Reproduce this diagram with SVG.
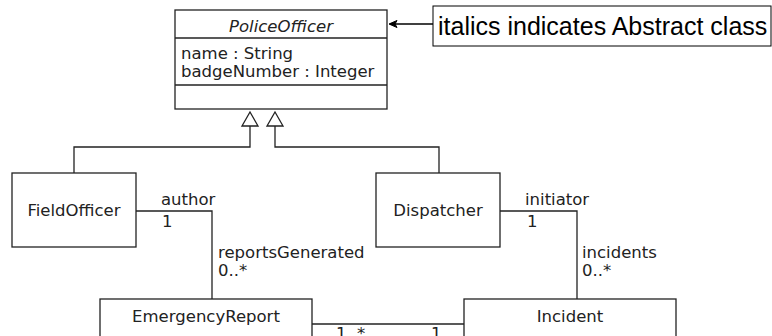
<svg xmlns="http://www.w3.org/2000/svg" width="772" height="336" viewBox="0 0 772 336">
<style>
.box{fill:#fff;stroke:#222;stroke-width:1.3}
.ln{fill:none;stroke:#222;stroke-width:1.3}
.t{font-family:"DejaVu Sans",sans-serif;font-size:16.5px;fill:#222}
.c{text-anchor:middle}
.i{font-style:italic}
.note{font-family:"Liberation Sans",Arial,sans-serif;font-size:25px;fill:#000}
</style>
<g id="connectors">
<path class="ln" d="M250,126 V147 H74 V173"/>
<path class="ln" d="M275,126 V147 H439 V173"/>
<path d="M242,126 L250,112 L258,126 Z" fill="#fff" stroke="#222" stroke-width="1.3"/>
<path d="M267,126 L275,112 L283,126 Z" fill="#fff" stroke="#222" stroke-width="1.3"/>
<path class="ln" d="M136,211 H212 V299"/>
<path class="ln" d="M500,211 H577 V299"/>
<path class="ln" d="M312,324 H464"/>
<path d="M433,24 H390" fill="none" stroke="#000" stroke-width="1.3"/>
<path d="M389,24 L397,20.5 L395,24 L397,27.5 Z" fill="#000" stroke="#000" stroke-width="1"/>
<text class="t" x="161" y="205">author</text>
<text class="t" x="162" y="227">1</text>
<text class="t" x="218" y="258">reportsGenerated</text>
<text class="t" x="218" y="276">0..*</text>
<text class="t" x="525" y="205">initiator</text>
<text class="t" x="527" y="227">1</text>
<text class="t" x="582" y="258">incidents</text>
<text class="t" x="582" y="276">0..*</text>
<text class="t" x="336" y="339">1..*</text>
<text class="t" x="431" y="339">1</text>
</g>
<g id="PoliceOfficer">
<rect class="box" x="175" y="10" width="212" height="99"/>
<line class="ln" x1="175" y1="38" x2="387" y2="38"/>
<line class="ln" x1="175" y1="85" x2="387" y2="85"/>
<text class="t c i" x="281" y="31.5">PoliceOfficer</text>
<text class="t" x="181" y="58.5">name : String</text>
<text class="t" x="181" y="76.5">badgeNumber : Integer</text>
</g>
<g id="note">
<rect x="433" y="6" width="338" height="40" fill="#fff" stroke="#000" stroke-width="1"/>
<text class="note" x="438" y="35">italics indicates Abstract class</text>
</g>
<g id="FieldOfficer">
<rect class="box" x="12" y="173" width="124" height="74"/>
<text class="t c" x="74" y="216">FieldOfficer</text>
</g>
<g id="Dispatcher">
<rect class="box" x="376" y="173" width="124" height="74"/>
<text class="t c" x="438" y="216">Dispatcher</text>
</g>
<g id="EmergencyReport">
<rect class="box" x="100" y="299" width="212" height="50"/>
<text class="t c" x="206" y="322">EmergencyReport</text>
</g>
<g id="Incident">
<rect class="box" x="464" y="299" width="212" height="50"/>
<text class="t c" x="570" y="322">Incident</text>
</g>
</svg>
